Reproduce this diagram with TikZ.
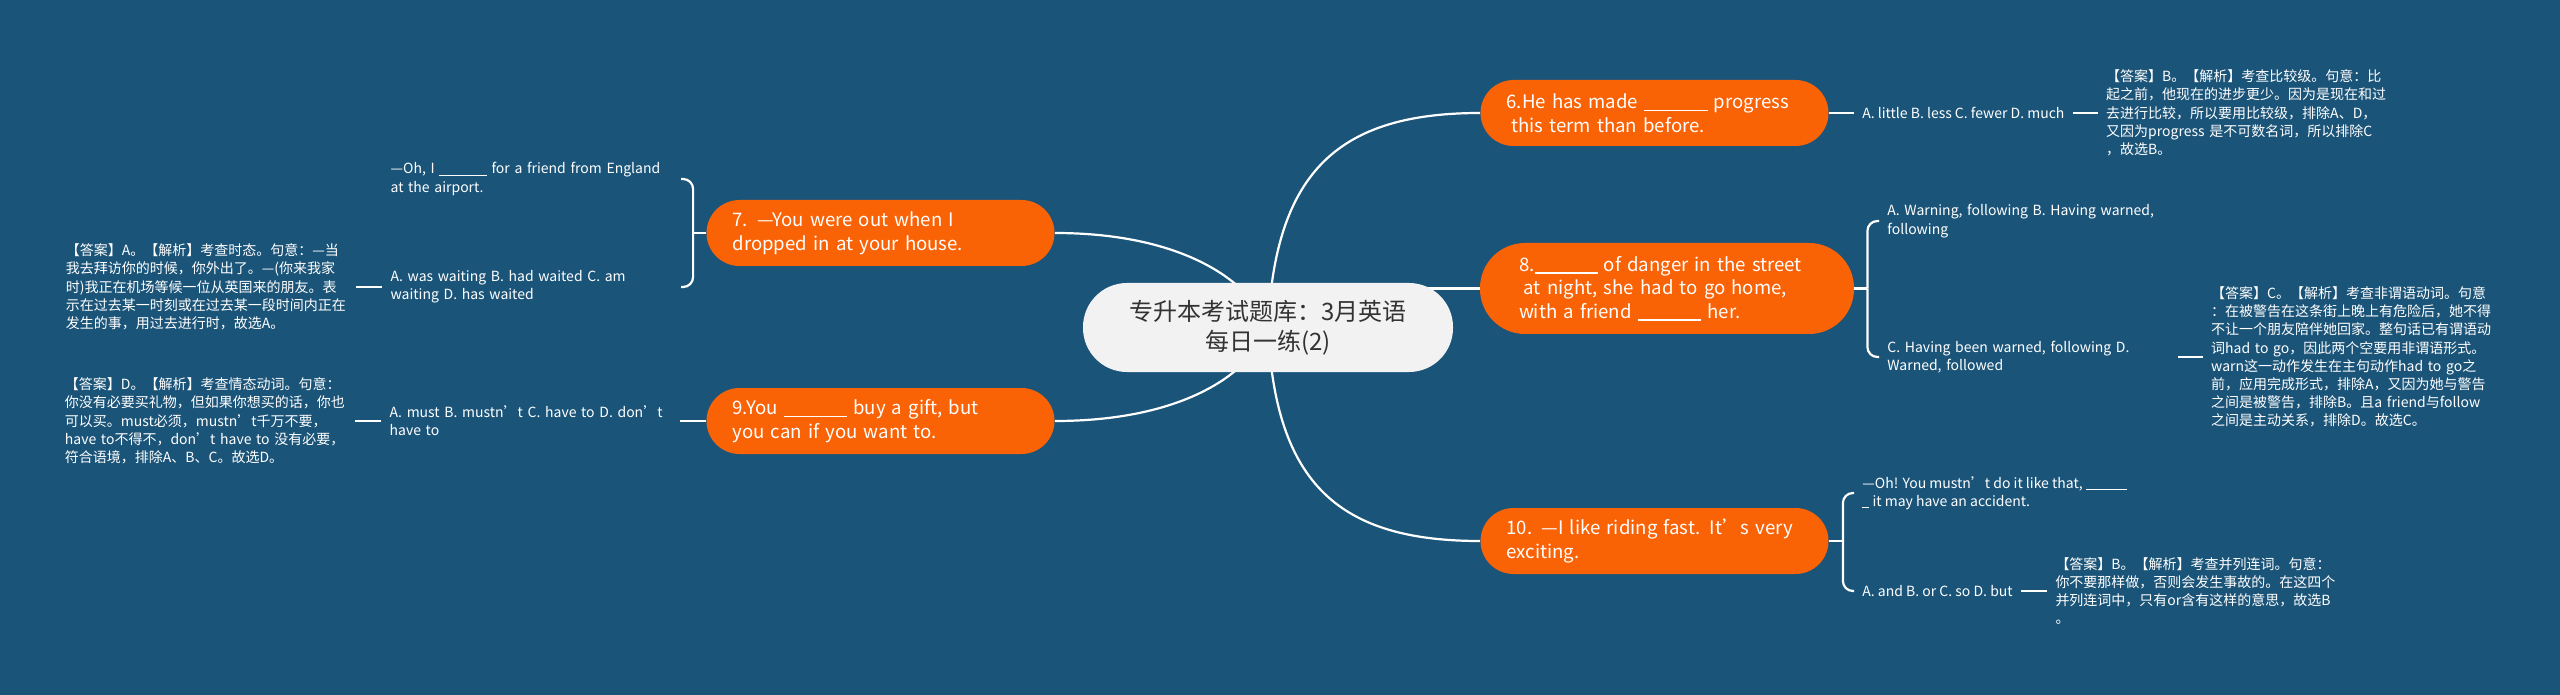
\documentclass[tikz,border=0pt]{standalone}
\usepackage{fontspec}
\setmainfont{Noto Sans CJK SC}
\usepackage{tikz}
\usetikzlibrary{positioning,backgrounds}
\definecolor{mapbg}{RGB}{27,84,121}
\definecolor{qorange}{RGB}{250,98,6}
\definecolor{topicfill}{RGB}{242,242,242}
\definecolor{topictext}{RGB}{51,51,51}
\newcommand{\gapline}[1][3.4]{\rule[-0.14em]{#1em}{0.08em}}

\begin{document}
\begin{tikzpicture}[
    x=0.5pt, y=-0.5pt,
    link/.style={white,line width=1.1pt},
    bracket/.style={link,rounded corners=5pt},
    topic/.style={rectangle,rounded corners=22pt,fill=topicfill,text=topictext,align=center,minimum width=185pt,minimum height=44.5pt,font=\fontsize{12}{15}\selectfont},
    question/.style={rectangle,rounded corners=16.5pt,fill=qorange,text=white,align=left,text width=148pt,inner xsep=13pt,minimum height=33pt,font=\fontsize{9.3}{11.8}\selectfont},
    option/.style={align=left,text=white,inner xsep=4pt,inner ysep=1pt,font=\fontsize{7}{9.1}\selectfont},
    answer/.style={option,text width=141pt}
]
\node[topic] (root) at (1268,327.5) {专升本考试题库：3月英语\\每日一练(2)};

\node[question] (q6) at (1654.5,113) {6.He has made \gapline{} progress\\\hspace{0.25em}this term than before.};
\node[question,inner xsep=19.5pt,rounded corners=22.5pt,minimum height=45.5pt] (q8) at (1667,288.5) {8.\gapline{} of danger in the street\\\hspace{0.25em}at night, she had to go home,\\with a friend \gapline{} her.};
\node[question] (q10) at (1654.5,541) {10. —I like riding fast. It’s very\\exciting.};
\node[question] (q7) at (880.5,233) {7. —You were out when I\\dropped in at your house.};
\node[question] (q9) at (880.5,421) {9.You \gapline{} buy a gift, but\\you can if you want to.};

\node[option, right=12.5pt of q6] (opt6) {A. little B. less C. fewer D. much};
\node[answer, right=12.5pt of opt6] (ans6) {【答案】B。【解析】考查比较级。句意：比\\起之前，他现在的进步更少。因为是现在和过\\去进行比较，所以要用比较级，排除A、D，\\又因为progress 是不可数名词，所以排除C\\，故选B。};

\node[answer, anchor=west] (opt8a) at (1879,221) {A. Warning, following B. Having warned,\\following};
\node[answer, anchor=west] (opt8b) at (1879,357) {C. Having been warned, following D.\\Warned, followed};
\node[answer, right=12.5pt of opt8b] (ans8) {【答案】C。【解析】考查非谓语动词。句意\\：在被警告在这条街上晚上有危险后，她不得\\不让一个朋友陪伴她回家。整句话已有谓语动\\词had to go，因此两个空要用非谓语形式。\\warn这一动作发生在主句动作had to go之\\前，应用完成形式，排除A，又因为她与警告\\之间是被警告，排除B。且a friend与follow\\之间是主动关系，排除D。故选C。};

\node[option, anchor=west] (ask10) at (1854,493) {—Oh! You mustn’t do it like that, \gapline[2.9]\\\gapline[0.5] it may have an accident.};
\node[option, anchor=west] (opt10) at (1854,591) {A. and B. or C. so D. but};
\node[answer, right=13pt of opt10] (ans10) {【答案】B。【解析】考查并列连词。句意：\\你不要那样做，否则会发生事故的。在这四个\\并列连词中，只有or含有这样的意思，故选B\\。};

\node[answer, anchor=east] (ask7) at (681,179) {—Oh, I \gapline{} for a friend from England\\at the airport.};
\node[answer, anchor=east] (opt7) at (681,287) {A. was waiting B. had waited C. am\\waiting D. has waited};
\node[answer, left=13pt of opt7] (ans7) {【答案】A。【解析】考查时态。句意：—当\\我去拜访你的时候，你外出了。—(你来我家\\时)我正在机场等候一位从英国来的朋友。表\\示在过去某一时刻或在过去某一段时间内正在\\发生的事，用过去进行时，故选A。};

\node[answer, left=13pt of q9] (opt9) {A. must B. mustn’t C. have to D. don’t\\have to};
\node[answer, left=13pt of opt9] (ans9) {【答案】D。【解析】考查情态动词。句意：\\你没有必要买礼物，但如果你想买的话，你也\\可以买。must必须，mustn’t千万不要，\\have to不得不，don’t have to 没有必要，\\符合语境，排除A、B、C。故选D。};

\begin{pgfonlayer}{background}
\fill[mapbg] (0,0) rectangle (2560,695);
\draw[link] (root.center) .. controls +(7,-157.5) and +(-140,0) .. (q6.west);
\draw[link] (root.center) .. controls +(7,157.5) and +(-140,0) .. (q10.west);
\draw[link] (root.center |- q8.west) -- (q8.west);
\draw[link] (root.center) .. controls +(-18,-47.5) and +(126,0) .. (q7.east);
\draw[link] (root.center) .. controls +(-18,47.5) and +(126,0) .. (q9.east);
\end{pgfonlayer}

\draw[link] (q6) -- (opt6);
\draw[link] (opt6) -- (ans6);
\draw[link] (q8.east) -- ++(13,0) coordinate (fork8);
\draw[bracket] (fork8) |- (opt8a.west);
\draw[bracket] (fork8) |- (opt8b.west);
\draw[link] (opt8b) -- (ans8);
\draw[link] (q10.east) -- ++(14,0) coordinate (fork10);
\draw[bracket] (fork10) |- (ask10.west);
\draw[bracket] (fork10) |- (opt10.west);
\draw[link] (opt10) -- (ans10);
\draw[link] (q7.west) -- ++(-13,0) coordinate (fork7);
\draw[bracket] (fork7) |- (ask7.east);
\draw[bracket] (fork7) |- (opt7.east);
\draw[link] (opt7) -- (ans7);
\draw[link] (q9) -- (opt9);
\draw[link] (opt9) -- (ans9);
\end{tikzpicture}
\end{document}
